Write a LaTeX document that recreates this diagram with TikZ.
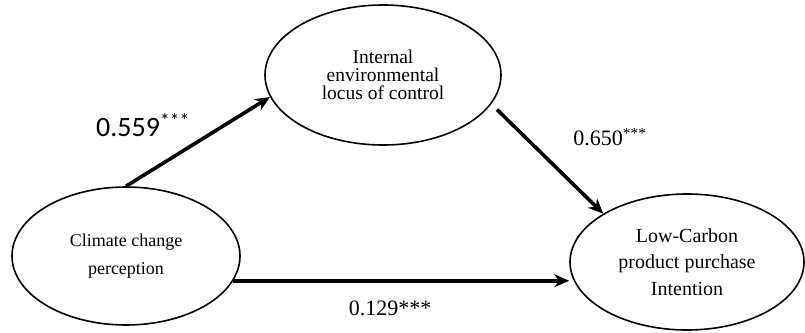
\documentclass[tikz,border=0pt]{standalone}
\usepackage{fontspec}
\setmainfont{Liberation Serif}
\newfontfamily\calib{Carlito}
\usepackage{tikz}
\usetikzlibrary{shapes.geometric, arrows.meta}

\begin{document}
\begin{tikzpicture}[x=1pt, y=1pt,
  factor/.style={ellipse, draw, line width=1.6pt, align=center, inner sep=0pt},
  path/.style={->, >={Stealth[length=15pt, width=13pt]}, line width=3.6pt},
  coef/.style={font=\fontsize{22}{26}\selectfont}]

  \useasboundingbox (0, 0) rectangle (805, 332);

  % latent constructs
  \node[factor, minimum width=228, minimum height=138,
        font=\fontsize{18}{28}\selectfont] (ccp) at (126, 76)
        {Climate change\\perception};
  \node[factor, minimum width=236, minimum height=140,
        font=\fontsize{19.5}{18}\selectfont] (ielc) at (383, 257)
        {Internal\\environmental\\locus of control};
  \node[factor, minimum width=234, minimum height=136,
        font=\fontsize{20}{26.5}\selectfont] (lcp) at (687, 70)
        {Low-Carbon\\product purchase\\Intention};

  % paths
  \draw[path] (ccp.north) -- (ielc.191);
  \draw[path, shorten <=8pt] (ielc.-15) -- (lcp.150);
  \draw[path] (ccp.-13) -- (ccp.-13 -| lcp.west);

  \node[coef, font=\calib\fontsize{28}{30}\selectfont] (a) at (143, 207)
        {0.559\textsuperscript{***}};
  \node[coef] (b) at (610, 195) {0.650\textsuperscript{***}};
  \node[coef] (c) at (390, 24) {0.129***};

\end{tikzpicture}
\end{document}
